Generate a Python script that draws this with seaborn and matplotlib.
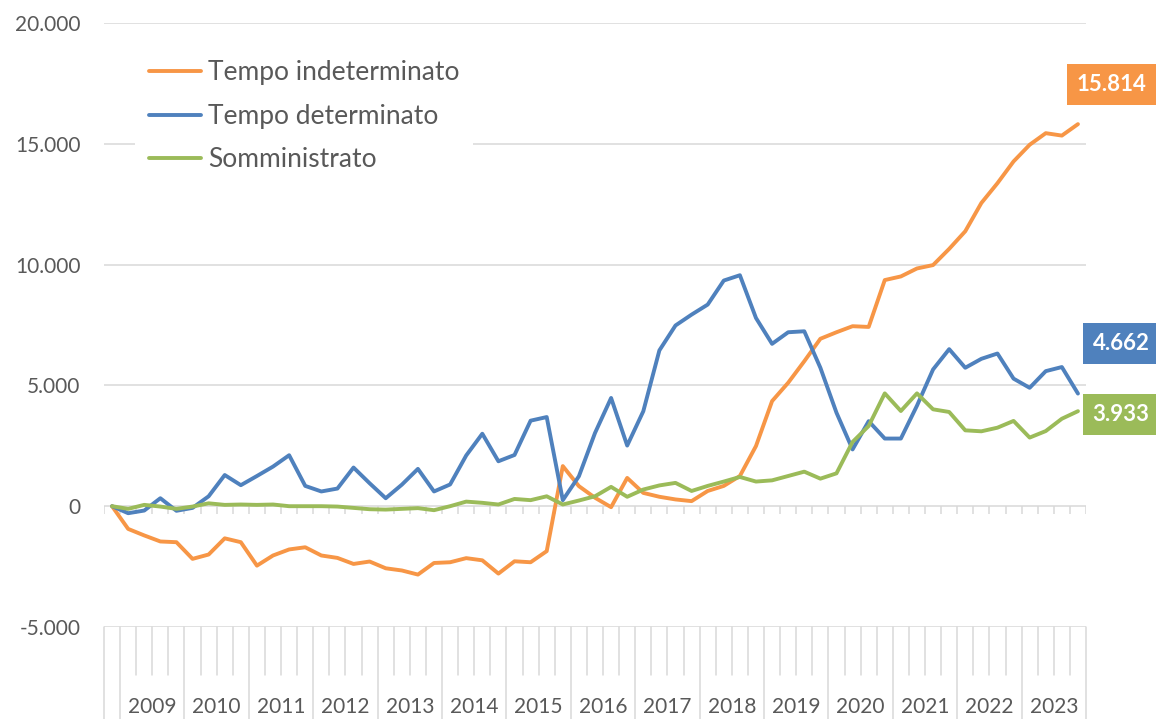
import numpy as np
import pandas as pd
import matplotlib
matplotlib.use('Agg')
import matplotlib.pyplot as plt
import matplotlib.transforms as mtransforms
import seaborn as sns


# trimestri dal IV 2008 al IV 2023
anni = list(range(2009, 2024))
periodi = ['2008-T4'] + [f'{a}-T{q}' for a in anni for q in range(1, 5)]

indeterminato = [0, -940, -1210, -1460, -1490, -2180, -2000, -1330, -1490, -2460,
                 -2040, -1790, -1700, -2040, -2140, -2390, -2290, -2570, -2660, -2830,
                 -2350, -2320, -2150, -2240, -2790, -2280, -2320, -1860, 1660, 830,
                 350, -40, 1170, 550, 390, 280, 210, 630, 840, 1250,
                 2490, 4350, 5110, 6000, 6930, 7200, 7450, 7420, 9360, 9510,
                 9840, 9980, 10650, 11380, 12550, 13370, 14270, 14960, 15440, 15340,
                 15814]
determinato = [0, -290, -180, 330, -190, -70, 410, 1290, 870, 1250,
               1640, 2110, 840, 610, 730, 1600, 950, 330, 890, 1545,
               610, 900, 2100, 3000, 1860, 2120, 3540, 3690, 250, 1240,
               3030, 4480, 2510, 3930, 6450, 7480, 7930, 8345, 9340, 9560,
               7790, 6720, 7200, 7240, 5730, 3870, 2350, 3520, 2800, 2800,
               4160, 5660, 6500, 5730, 6100, 6320, 5280, 4900, 5590, 5760,
               4662]
somministrato = [0, -110, 55, -15, -110, -15, 120, 55, 70, 55,
                 70, 0, 0, 0, -15, -70, -125, -140, -110, -80,
                 -165, 0, 190, 140, 70, 300, 250, 410, 70, 235,
                 410, 800, 390, 690, 860, 965, 630, 840, 1020, 1210,
                 1020, 1070, 1250, 1430, 1140, 1360, 2660, 3320, 4670, 3940,
                 4670, 4010, 3900, 3140, 3100, 3250, 3530, 2840, 3110, 3620,
                 3933]

serie = ['Tempo indeterminato', 'Tempo determinato', 'Somministrato']
colori = ['#F79646', '#4F81BD', '#9BBB59']
grigio = '#D9D9D9'
testo = '#595959'

df = pd.DataFrame({'periodo': periodi,
                   'Tempo indeterminato': indeterminato,
                   'Tempo determinato': determinato,
                   'Somministrato': somministrato})
df['pos'] = np.arange(len(df))
lungo = df.melt(id_vars=['periodo', 'pos'], var_name='serie', value_name='valore')

sns.set_theme(style='white')
plt.rcParams['font.family'] = ['Lato', 'DejaVu Sans']

fig = plt.figure(figsize=(11.56, 7.19), dpi=100)
ax = fig.add_axes([104 / 1156, 92 / 719, 982 / 1156, 604 / 719])

sns.lineplot(data=lungo, x='pos', y='valore', hue='serie', hue_order=serie,
             palette=colori, lw=2.8, ax=ax, solid_joinstyle='round',
             solid_capstyle='round', zorder=3)

n = len(periodi)
ax.set_xlim(-0.5, n - 0.5)
ax.set_ylim(-5000, 20000)
yt = list(range(-5000, 20001, 5000))
ax.set_yticks(yt)
ax.set_yticklabels([f'{v:,}'.replace(',', '.') for v in yt])
ax.yaxis.grid(True, color=grigio, lw=1.1)
ax.set_axisbelow(True)
ax.set_xticks([])
ax.set_xlabel('')
ax.set_ylabel('')
for s in ax.spines.values():
    s.set_visible(False)
ax.tick_params(axis='y', length=0, pad=17, labelsize=15, labelcolor=testo)

# tacche sull'asse a zero
confini = np.arange(n + 1) - 0.5
ax.vlines(confini, -330, 0, color=grigio, lw=1.1, zorder=1)

# tabella delle etichette sotto il grafico
trans = mtransforms.blended_transform_factory(ax.transData, ax.transAxes)
anno_di = [p[:4] for p in periodi]
for k, c in enumerate(confini):
    nuovo_anno = k == 0 or k == n or anno_di[k] != anno_di[k - 1]
    ax.plot([c, c], [0, -0.16 if nuovo_anno else -0.0795], transform=trans,
            color=grigio, lw=1.1, clip_on=False)

for a in anni:
    pos = [i for i, p in enumerate(periodi) if p.startswith(str(a))]
    ax.text(np.mean(pos), -0.132, str(a), transform=trans, ha='center',
            va='center', fontsize=15, color=testo)

# legenda
handles, labels = ax.get_legend_handles_labels()
leg = ax.legend(handles, labels, loc='upper left', bbox_to_anchor=(0.032, 0.96),
                borderaxespad=0, borderpad=0.5, frameon=True, facecolor='white',
                edgecolor='none', framealpha=1, fontsize=19, handlelength=2.0,
                handletextpad=0.25, labelspacing=0.7)
for t in leg.get_texts():
    t.set_color(testo)
for h in leg.get_lines():
    h.set_linewidth(2.8)

# etichette finali
ultimi = [indeterminato[-1], determinato[-1], somministrato[-1]]
scarti = [(34, 40), (43, 50), (43, -3)]
for val, col, off in zip(ultimi, colori, scarti):
    ax.annotate(f'{val:,}'.replace(',', '.'), xy=(n - 1, val), xytext=off,
                textcoords='offset pixels', ha='center', va='center',
                color='white', fontweight='bold', fontsize=16,
                bbox=dict(boxstyle='square,pad=0.45', fc=col, ec='none'),
                annotation_clip=False)

fig.savefig('out.png', dpi=100)
